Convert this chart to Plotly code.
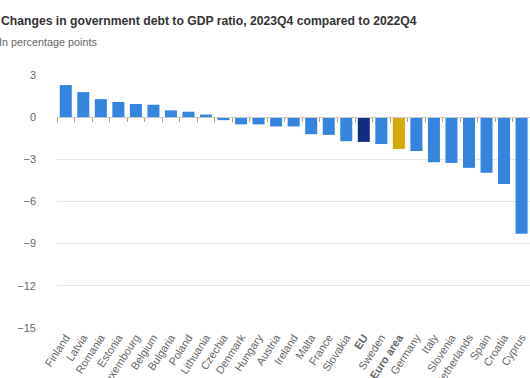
import plotly.graph_objects as go

countries = ["Finland", "Latvia", "Romania", "Estonia", "Luxembourg", "Belgium", "Bulgaria",
             "Poland", "Lithuania", "Czechia", "Denmark", "Hungary", "Austria", "Ireland",
             "Malta", "France", "Slovakia", "EU", "Sweden", "Euro area", "Germany", "Italy",
             "Slovenia", "Netherlands", "Spain", "Croatia", "Cyprus", "Greece"]
changes = [2.3, 1.8, 1.3, 1.1, 0.95, 0.9, 0.5, 0.4, 0.2, -0.2, -0.5, -0.5, -0.65, -0.65,
           -1.2, -1.25, -1.7, -1.75, -1.9, -2.25, -2.4, -3.2, -3.25, -3.6, -3.95, -4.75,
           -8.3, -10.8]
y_ticks = [3, 0, -3, -6, -9, -12, -15]

BLUE = "#3584e0"
EU_COL = "#0f2e7d"
EA_COL = "#d4a90a"
colors = [EU_COL if c == "EU" else EA_COL if c == "Euro area" else BLUE for c in countries]
ticktext = ["<b>%s</b>" % c if c in ("EU", "Euro area") else c for c in countries]

fig = go.Figure()
fig.add_trace(go.Bar(x=countries, y=changes, marker=dict(color=colors, line=dict(width=0)),
                     hoverinfo="x+y", showlegend=False))
# invisible copy on a second x axis that supplies the baseline with boundary ticks
fig.add_trace(go.Bar(x=countries, y=changes, xaxis="x2", marker=dict(opacity=0),
                     hoverinfo="skip", showlegend=False))

y_min, y_max = -15, 3
fig.update_layout(
    width=530, height=378,
    margin=dict(l=57, r=0, t=75, b=50),
    paper_bgcolor="white", plot_bgcolor="white",
    bargap=0.315,
    font=dict(family="Liberation Sans, Arial, sans-serif", color="#666666", size=11),
    xaxis=dict(type="category", range=[-0.5, 26.48], showgrid=False, showline=False,
               ticks="", tickmode="array", tickvals=countries, ticktext=ticktext,
               tickangle=-57, tickfont=dict(size=11, color="#666666"), automargin=False,
               fixedrange=True),
    xaxis2=dict(type="category", overlaying="x", matches="x", anchor="free",
                position=(0 - y_min) / (y_max - y_min), showline=True, linecolor="#c8c8c8",
                linewidth=1, ticks="outside", tickson="boundaries", ticklen=4,
                tickcolor="#c8956a", showticklabels=False, showgrid=False, side="bottom"),
    yaxis=dict(range=[y_min - 0.02, y_max + 0.02], tickmode="array", tickvals=y_ticks,
               showgrid=True, gridcolor="#e6e6e6", gridwidth=1, zeroline=False,
               showline=False, ticks="", ticklabelstandoff=20,
               tickfont=dict(size=11, color="#666666"), automargin=False),
    annotations=[
        dict(text="<b>Changes in government debt to GDP ratio, 2023Q4 compared to 2022Q4</b>",
             xref="paper", yref="paper", x=-57 / 473 - 1 / 473, y=1 + 54 / 253,
             xanchor="left", yanchor="middle", showarrow=False,
             font=dict(size=12.2, color="#333333")),
        dict(text="In percentage points",
             xref="paper", yref="paper", x=-57 / 473 - 3.5 / 473, y=1 + 33 / 253,
             xanchor="left", yanchor="middle", showarrow=False,
             font=dict(size=10.8, color="#666666")),
    ],
)

fig.write_html("out.html", config={"displayModeBar": False},
               post_script="document.body.style.margin='0';document.body.style.overflow='hidden';")
